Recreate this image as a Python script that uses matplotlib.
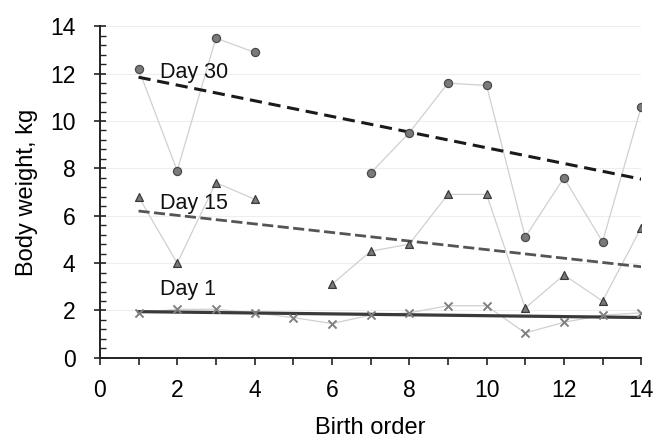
import numpy as np
import matplotlib.pyplot as plt
from matplotlib.ticker import MultipleLocator

plt.rcParams['font.family'] = ['Liberation Sans', 'DejaVu Sans']

birth_order = np.arange(1, 15)
day30 = [12.2, 7.9, 13.5, 12.9, np.nan, np.nan, 7.8, 9.5, 11.6, 11.5, 5.1, 7.6, 4.9, 10.6]
day15 = [6.8, 4.0, 7.4, 6.7, np.nan, 3.1, 4.5, 4.8, 6.9, 6.9, 2.1, 3.5, 2.4, 5.5]
day1 = [1.9, 2.05, 2.05, 1.9, 1.7, 1.45, 1.8, 1.9, 2.2, 2.2, 1.05, 1.5, 1.8, 1.9]

# trend lines: (intercept, slope)
trend30 = (12.18, -0.331)
trend15 = (6.38, -0.181)
trend1 = (1.97, -0.019)

fig, ax = plt.subplots(figsize=(6.57, 4.38), dpi=100)
fig.subplots_adjust(left=0.152, right=0.976, bottom=0.183, top=0.94)

ax.grid(axis='y', color='#eeeeee', linewidth=0.8, zorder=0)
ax.set_axisbelow(True)

ax.plot(birth_order, day30, color='#d0d0d0', linewidth=0.9, zorder=1)
ax.plot(birth_order, day15, color='#d0d0d0', linewidth=0.9, zorder=1)
ax.plot(birth_order, day1, color='#d0d0d0', linewidth=0.9, zorder=1)

ax.scatter(birth_order, day30, marker='o', s=34, facecolor='#7a7a7a',
           edgecolor='#4a4a4a', linewidth=0.9, zorder=3)
ax.scatter(birth_order, day15, marker='^', s=32, facecolor='#7a7a7a',
           edgecolor='#3a3a3a', linewidth=0.9, zorder=3)
ax.scatter(birth_order, day1, marker='x', s=34, color='#808080',
           linewidth=1.4, zorder=3)

xt = np.array([1, 14])
ax.plot(xt, trend30[0] + trend30[1] * xt, color='#1a1a1a', linestyle=(0, (4, 2.2)),
        linewidth=2.2, zorder=2)
ax.plot(xt, trend15[0] + trend15[1] * xt, color='#555555', linestyle=(0, (4, 1.6)),
        linewidth=2.0, zorder=2)
ax.plot(xt, trend1[0] + trend1[1] * xt, color='#3a3a3a', linewidth=2.3, zorder=2)

ax.text(1.55, 12.05, 'Day 30', fontsize=15.5, va='center', color='#111111')
ax.text(1.55, 6.5, 'Day 15', fontsize=15.5, va='center', color='#111111')
ax.text(1.55, 2.9, 'Day 1', fontsize=15.5, va='center', color='#111111')

ax.set_xlim(0, 14)
ax.set_ylim(0, 14)
ax.xaxis.set_major_locator(MultipleLocator(2))
ax.xaxis.set_minor_locator(MultipleLocator(1))
ax.yaxis.set_major_locator(MultipleLocator(2))
ax.yaxis.set_minor_locator(MultipleLocator(0.4))

ax.tick_params(axis='y', which='major', direction='inout', length=9, width=1.2,
               labelsize=16.5, color='#222222', pad=13)
ax.tick_params(axis='y', which='minor', direction='in', length=4, width=1.0, color='#222222')
ax.tick_params(axis='x', which='both', direction='out', length=5, width=1.2,
               labelsize=16.5, color='#222222', pad=10)

ax.set_xlabel('Birth order', fontsize=17, labelpad=11)
ax.set_ylabel('Body weight, kg', fontsize=17, labelpad=9)

ax.spines['top'].set_visible(False)
ax.spines['right'].set_visible(False)
ax.spines['left'].set_linewidth(1.4)
ax.spines['bottom'].set_linewidth(1.4)
ax.spines['left'].set_color('#222222')
ax.spines['bottom'].set_color('#222222')

plt.savefig('out.png', dpi=100)
